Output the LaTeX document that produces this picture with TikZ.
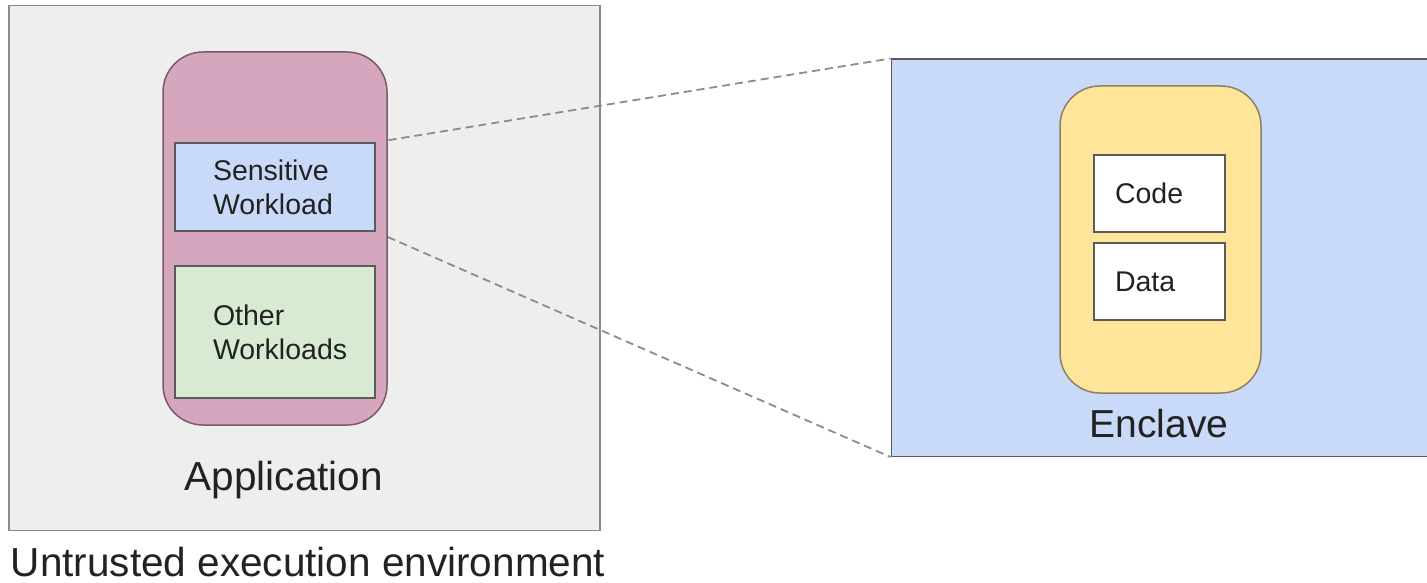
\documentclass[tikz,border=0pt]{standalone}
\usepackage{fontspec}
\setmainfont{Liberation Sans}
\pgfdeclarelayer{bg}
\pgfdeclarelayer{mid}
\pgfsetlayers{bg,mid,main}
\definecolor{envfill}{HTML}{EEEEEE}
\definecolor{envline}{HTML}{8A8A8A}
\definecolor{appfill}{HTML}{D5A6BD}
\definecolor{appline}{HTML}{7A5A6C}
\definecolor{sensfill}{HTML}{C9DAF8}
\definecolor{otherfill}{HTML}{D9EAD3}
\definecolor{enclfill}{HTML}{FFE599}
\definecolor{enclline}{HTML}{8C8068}
\definecolor{boxline}{HTML}{5A5A5A}
\definecolor{dashcol}{HTML}{8C8C8C}
\definecolor{txt}{HTML}{222222}
\tikzset{
  region/.style={draw=envline, line width=1.5bp, inner sep=0pt},
  capsule/.style={line width=1.5bp, rounded corners=40bp, inner sep=0pt},
  itembox/.style={draw=boxline, line width=1.5bp, align=left, text=txt,
    font=\fontsize{28.5bp}{34bp}\selectfont},
  biglabel/.style={text=txt, inner sep=0pt, font=\fontsize{40.5bp}{46bp}\selectfont},
  zoomline/.style={draw=dashcol, line width=1.8bp, dash pattern=on 8bp off 5bp}
}
\begin{document}
\begin{tikzpicture}[x=1bp,y=-1bp]
\useasboundingbox (0,0) rectangle (1427,583);
% untrusted environment
\begin{pgfonlayer}{bg}
\node[region, fill=envfill, minimum width=591bp, minimum height=525bp] (env) at (304.5,268) {};
\node[region, draw=boxline, fill=sensfill, minimum width=545bp, minimum height=397bp, anchor=north west] (encl) at (890.5,58.5) {};
\end{pgfonlayer}
\node[biglabel, anchor=base] (envlbl) at (308,576) {Untrusted execution environment};
% application capsule
\node[capsule, draw=appline, fill=appfill, minimum width=224bp, minimum height=373bp] (app) at (275,238.5) {};
\node[itembox, fill=sensfill, minimum width=200bp, minimum height=88bp, inner xsep=38bp, text width=124bp] (sens) at (275,187) {Sensitive\\Workload};
\node[itembox, fill=otherfill, minimum width=200bp, minimum height=132bp, inner xsep=38bp, text width=124bp] (other) at (275,332) {Other\\Workloads};
\node[biglabel, anchor=base] (applbl) at (284,490) {Application};
% enclave
\node[capsule, draw=enclline, fill=enclfill, minimum width=201bp, minimum height=307bp] (cap) at (1160.5,239.5) {};
\node[itembox, fill=white, minimum width=131bp, minimum height=77bp, inner xsep=21bp, text width=89bp] (code) at (1159.5,193.5) {Code};
\node[itembox, fill=white, minimum width=131bp, minimum height=77bp, inner xsep=21bp, text width=89bp] (data) at (1159.5,281.5) {Data};
\node[biglabel, anchor=base, font=\fontsize{39bp}{45bp}\selectfont] (encllbl) at (1159,437) {Enclave};
% zoom lines
\begin{pgfonlayer}{mid}
\draw[zoomline] (sens.north east) -- (encl.north west);
\draw[zoomline] (sens.south east) -- (encl.south west);
\end{pgfonlayer}
\end{tikzpicture}
\end{document}
